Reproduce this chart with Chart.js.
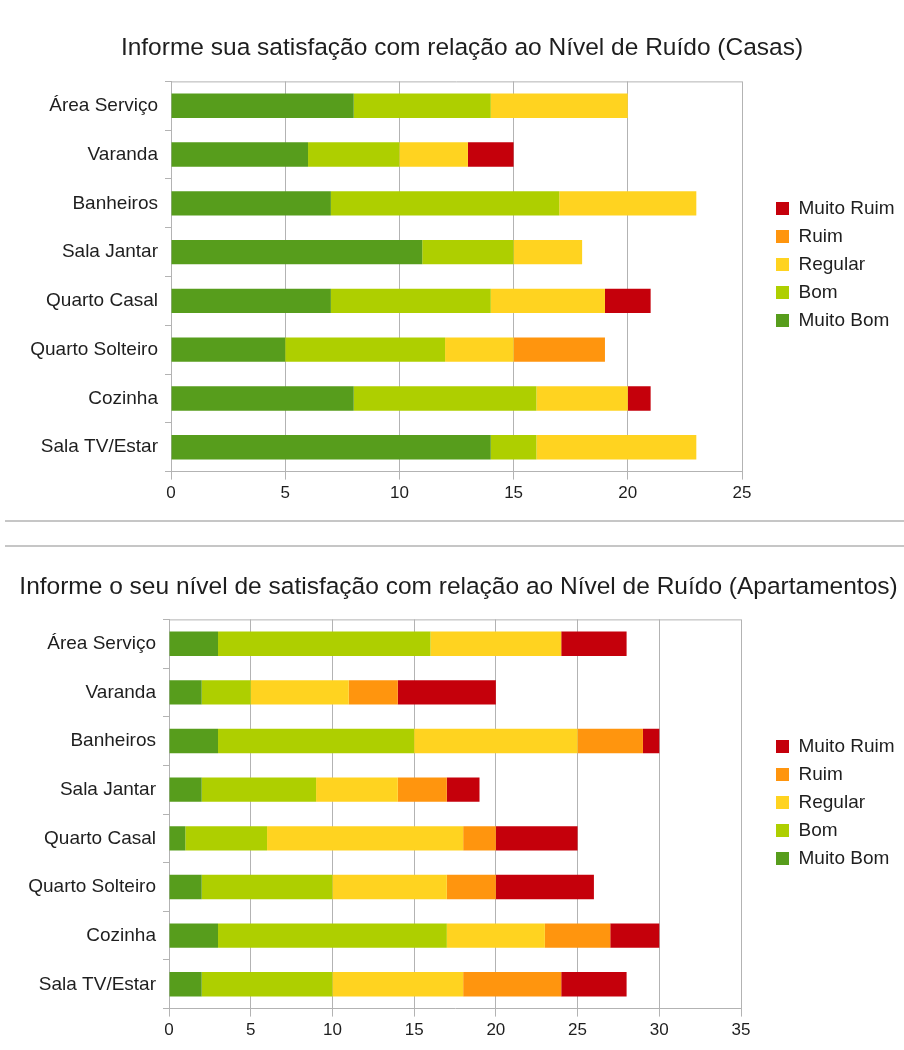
<!DOCTYPE html>
<html>
<head>
<meta charset="utf-8">
<script src="https://cdn.jsdelivr.net/npm/chart.js@4.4.1/dist/chart.umd.min.js"></script>
<style>
  body { margin: 0; background: #fff; width: 904px; height: 1050px; position: relative; overflow: hidden; }
  .box { position: absolute; left: 0; width: 904px; }
  #box1 { top: 0; height: 515px; }
  #box2 { top: 548px; height: 502px; }
  .sep { position: absolute; left: 5px; right: 0; border-top: 2px solid #c6c6c6; }
</style>
</head>
<body>
<div class="box" id="box1"><canvas id="chart1"></canvas></div>
<div class="sep" style="top:520px"></div>
<div class="sep" style="top:545px"></div>
<div class="box" id="box2"><canvas id="chart2"></canvas></div>
<script>
var categories = ["Área Serviço", "Varanda", "Banheiros", "Sala Jantar", "Quarto Casal", "Quarto Solteiro", "Cozinha", "Sala TV/Estar"];
var levels = ["Muito Bom", "Bom", "Regular", "Ruim", "Muito Ruim"];
var levelColors = ["#579d1c", "#aecf00", "#ffd320", "#ff950e", "#c5000b"];

// Casas
var casasMuitoBom = [8, 6, 7, 11, 7, 5, 8, 14];
var casasBom = [6, 4, 10, 4, 7, 7, 8, 2];
var casasRegular = [6, 3, 6, 3, 5, 3, 4, 7];
var casasRuim = [0, 0, 0, 0, 0, 4, 0, 0];
var casasMuitoRuim = [0, 2, 0, 0, 2, 0, 1, 0];

// Apartamentos
var aptoMuitoBom = [3, 2, 3, 2, 1, 2, 3, 2];
var aptoBom = [13, 3, 12, 7, 5, 8, 14, 8];
var aptoRegular = [8, 6, 10, 5, 12, 7, 6, 8];
var aptoRuim = [0, 3, 4, 3, 2, 3, 4, 6];
var aptoMuitoRuim = [4, 6, 1, 2, 5, 6, 3, 4];

var casasMax = 25;
var aptoMax = 35;

var FONT = "'Liberation Sans', Arial, sans-serif";
var TEXT = "#1e1e1e";
var GRID = "#b3b3b3";

// draws the top edge of the plot frame
var frameTop = {
  id: "frameTop",
  afterDraw: function (chart) {
    var a = chart.chartArea, ctx = chart.ctx;
    ctx.save();
    ctx.strokeStyle = GRID;
    ctx.lineWidth = 1;
    ctx.beginPath();
    ctx.moveTo(a.left, a.top + 0.5);
    ctx.lineTo(a.right, a.top + 0.5);
    ctx.stroke();
    ctx.restore();
  }
};

function makeChart(id, title, series, xMax, opts) {
  var datasets = series.map(function (values, i) {
    return {
      label: levels[i],
      data: values,
      backgroundColor: levelColors[i],
      borderWidth: 0,
      categoryPercentage: 1,
      barPercentage: 0.5
    };
  });
  return new Chart(document.getElementById(id).getContext("2d"), {
    type: "bar",
    data: { labels: categories, datasets: datasets },
    plugins: [frameTop],
    options: {
      indexAxis: "y",
      responsive: true,
      maintainAspectRatio: false,
      animation: false,
      layout: { padding: { left: opts.padLeft, right: 0, top: 0, bottom: opts.padBottom } },
      plugins: {
        title: {
          display: true,
          text: title,
          color: TEXT,
          font: { family: FONT, size: 24.5, weight: "normal" },
          padding: { top: opts.titleTop, bottom: opts.titleBottom }
        },
        legend: {
          position: "right",
          reverse: true,
          maxWidth: 137,
          title: { display: true, text: "", font: { size: 10 }, padding: { top: 0, bottom: opts.legendShift } },
          labels: {
            color: TEXT,
            font: { family: FONT, size: 19 },
            boxWidth: 13,
            boxHeight: 13,
            padding: 9
          }
        },
        tooltip: { enabled: false }
      },
      scales: {
        x: {
          stacked: true,
          min: 0,
          max: xMax,
          ticks: { stepSize: 5, color: TEXT, padding: 4, font: { family: FONT, size: 17 } },
          grid: { color: GRID, tickLength: 8 },
          border: { color: GRID }
        },
        y: {
          stacked: true,
          ticks: { color: TEXT, padding: 7, font: { family: FONT, size: 19 } },
          grid: { drawOnChartArea: false, color: GRID, tickLength: 6, offset: true },
          border: { color: GRID },
          afterFit: function (s) { s.width = opts.plotLeft - opts.padLeft; }
        },
        gap: {
          type: "category",
          position: "right",
          ticks: { display: false },
          grid: { display: false },
          border: { display: false },
          afterFit: function (s) { s.width = opts.gap; }
        }
      }
    }
  });
}

makeChart("chart1", "Informe sua satisfação com relação ao Nível de Ruído (Casas)",
  [casasMuitoBom, casasBom, casasRegular, casasRuim, casasMuitoRuim], casasMax,
  { plotLeft: 171, padLeft: 20, padBottom: 7, titleTop: 34, titleBottom: 18, gap: 25, legendShift: 9 });

makeChart("chart2", "Informe o seu nível de satisfação com relação ao Nível de Ruído (Apartamentos)",
  [aptoMuitoBom, aptoBom, aptoRegular, aptoRuim, aptoMuitoRuim], aptoMax,
  { plotLeft: 169, padLeft: 13, padBottom: 5, titleTop: 25, titleBottom: 17, gap: 26, legendShift: 0 });
</script>
</body>
</html>
